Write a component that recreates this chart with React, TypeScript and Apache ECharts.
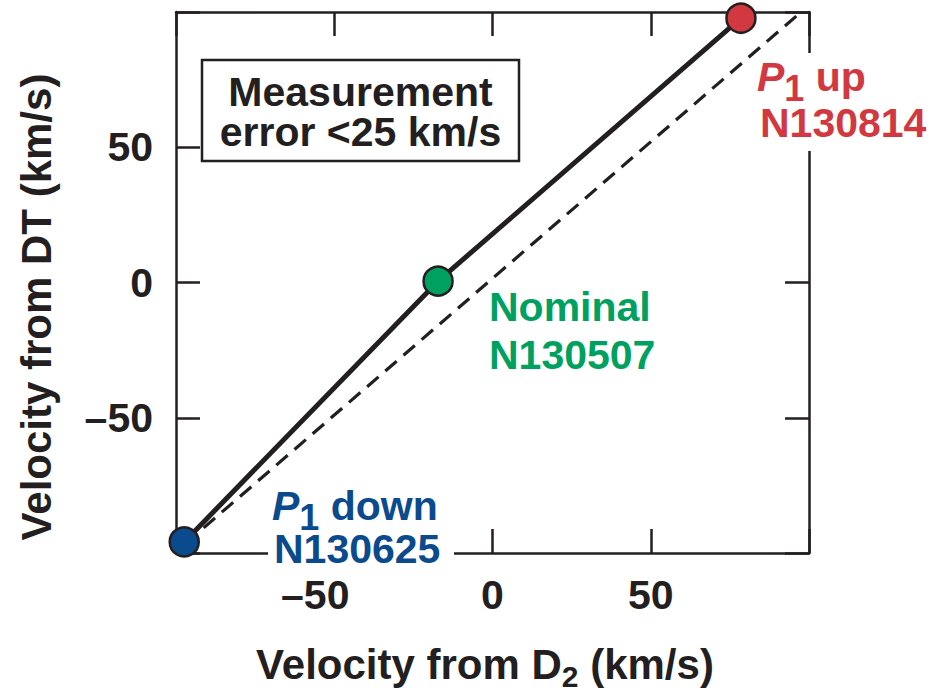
import React, { useEffect, useRef } from 'react';
import * as echarts from 'echarts';

// ---- data ----
const pointLabels = ['P1 down N130625', 'Nominal N130507', 'P1 up N130814'];
const velFromD2 = [-97.4, -17.2, 78.5];
const velFromDT = [-95.9, 0.5, 97.7];
const refLineD2 = [-97, 97];
const refLineDT = [-96.5, 99.5];
const axisMin = -100;
const axisMax = 100;
const tickStep = 50;

// ---- styles ----
const INK = '#231f20';
const RED = '#d2383f';
const GREEN = '#00a160';
const BLUE = '#0b4a8d';
const pointColors = [BLUE, GREEN, RED];
const FONT = '"Liberation Sans", Arial, Helvetica, sans-serif';

const fmtTick = (v: number) => {
  if (v === axisMin || v === axisMax) return '';
  return v < 0 ? '\u2013' + String(-v) : String(v);
};

const axisCommon = {
  type: 'value',
  min: axisMin,
  max: axisMax,
  interval: tickStep,
  axisLine: { show: true, onZero: false, lineStyle: { color: INK, width: 2.5 } },
  axisTick: { show: true, inside: true, length: 24, lineStyle: { color: INK, width: 2.5 } },
  splitLine: { show: false },
};

const bold = (size: number, color: string, extra: any = {}) => ({
  fontFamily: FONT,
  fontWeight: 'bold',
  fontSize: size,
  fill: color,
  ...extra,
});

const subLine = (x: number, y: number, main: string, rest: string, color: string) => ({
  type: 'text',
  x,
  y,
  z: 60,
  style: {
    text: `{p|${main}}{s|1}{u|${rest}}`,
    align: 'left',
    verticalAlign: 'middle',
    ...bold(41, color),
    rich: {
      p: bold(41, color, { fontStyle: 'italic', lineHeight: 42 }),
      s: bold(36, color, { lineHeight: 18, padding: [23, 0, 0, 0], verticalAlign: 'middle' }),
      u: bold(41, color, { lineHeight: 42 }),
    },
  },
});

const plainText = (x: number, y: number, text: string, color: string, extra: any = {}) => ({
  type: 'text',
  x,
  y,
  z: 60,
  style: {
    text,
    align: 'left',
    verticalAlign: 'middle',
    ...bold(41, color),
    ...extra,
  },
});

export default function App() {
  const ref = useRef<HTMLDivElement>(null);

  useEffect(() => {
    const chart = echarts.init(ref.current!, null, { renderer: 'svg' });
    const option: any = {
      animation: false,
      backgroundColor: '#ffffff',
      grid: { left: 176, right: 138, top: 12, bottom: 137, show: false },
      xAxis: [
        {
          ...axisCommon,
          position: 'bottom',
          axisLabel: {
            show: true,
            margin: 21,
            color: INK,
            fontFamily: FONT,
            fontWeight: 'bold',
            fontSize: 41,
            lineHeight: 42,
            formatter: (v: number) => {
              const t = fmtTick(v);
              return v < 0 && t ? `{n|${t}}` : t;
            },
            rich: {
              n: {
                color: INK,
                fontFamily: FONT,
                fontWeight: 'bold',
                fontSize: 41,
                lineHeight: 42,
                padding: [0, 38, 0, 0],
              },
            },
          },
        },
        { ...axisCommon, position: 'top', axisLabel: { show: false } },
      ],
      yAxis: [
        {
          ...axisCommon,
          position: 'left',
          axisLabel: {
            show: true,
            margin: 23,
            color: INK,
            fontFamily: FONT,
            fontWeight: 'bold',
            fontSize: 41,
            formatter: fmtTick,
          },
        },
        { ...axisCommon, position: 'right', axisLabel: { show: false } },
      ],
      series: [
        {
          name: 'Equal velocity',
          type: 'line',
          xAxisIndex: 0,
          yAxisIndex: 0,
          data: refLineD2.map((x, i) => [x, refLineDT[i]]),
          symbol: 'none',
          silent: true,
          lineStyle: { color: INK, width: 3.2, type: [15, 9] },
          z: 3,
        },
        {
          name: 'Measured',
          type: 'line',
          xAxisIndex: 0,
          yAxisIndex: 0,
          data: velFromD2.map((x, i) => [x, velFromDT[i]]),
          symbol: 'none',
          lineStyle: { color: INK, width: 5 },
          z: 4,
        },
        {
          name: 'Shots',
          type: 'scatter',
          xAxisIndex: 0,
          yAxisIndex: 0,
          clip: false,
          symbolSize: 29,
          data: velFromD2.map((x, i) => ({
            name: pointLabels[i],
            value: [x, velFromDT[i]],
            itemStyle: { color: pointColors[i] },
          })),
          itemStyle: { borderColor: INK, borderWidth: 2.5, opacity: 1 },
          z: 5,
        },
      ],
      graphic: [
        // measurement error box
        {
          type: 'rect',
          z: 50,
          shape: { x: 202, y: 60, width: 317, height: 101 },
          style: { fill: '#ffffff', stroke: INK, lineWidth: 2.5 },
        },
        {
          type: 'text',
          x: 360.5,
          y: 91.5,
          z: 60,
          style: { text: 'Measurement', align: 'center', verticalAlign: 'middle', lineHeight: 40, ...bold(41, INK) },
        },
        {
          type: 'text',
          x: 360.5,
          y: 131.7,
          z: 60,
          style: { text: 'error <25 km/s', align: 'center', verticalAlign: 'middle', lineHeight: 40, ...bold(41, INK) },
        },
        // P1 up label with white background
        {
          type: 'rect',
          z: 50,
          shape: { x: 757, y: 53, width: 182, height: 98 },
          style: { fill: '#ffffff' },
        },
        subLine(757, 76.5, 'P', ' up', RED),
        plainText(760, 123, 'N130814', RED),
        // Nominal label
        plainText(489, 307.4, 'Nominal', GREEN),
        plainText(489, 355, 'N130507', GREEN),
        // P1 down label with white background
        {
          type: 'rect',
          z: 50,
          shape: { x: 268, y: 484, width: 186, height: 90 },
          style: { fill: '#ffffff' },
        },
        subLine(272, 505.5, 'P', ' down', BLUE),
        plainText(274, 549, 'N130625', BLUE),
        // axis titles
        {
          type: 'text',
          x: 36,
          y: 307,
          z: 60,
          rotation: Math.PI / 2,
          style: {
            text: 'Velocity from DT (km/s)',
            align: 'center',
            verticalAlign: 'middle',
            ...bold(42, INK),
          },
        },
        {
          type: 'text',
          x: 485,
          y: 664,
          z: 60,
          style: {
            text: '{m|Velocity from D}{s|2}{m| (km/s)}',
            align: 'center',
            verticalAlign: 'middle',
            ...bold(42, INK),
            rich: {
              m: bold(42, INK, { lineHeight: 44 }),
              s: bold(30, INK, { lineHeight: 18, padding: [24, 0, 0, 0], verticalAlign: 'middle' }),
            },
          },
        },
      ],
    };
    chart.setOption(option);
    return () => chart.dispose();
  }, []);

  return (
    <div
      ref={ref}
      style={{ position: 'fixed', left: 0, top: 0, width: 947, height: 690, background: '#ffffff' }}
    />
  );
}
